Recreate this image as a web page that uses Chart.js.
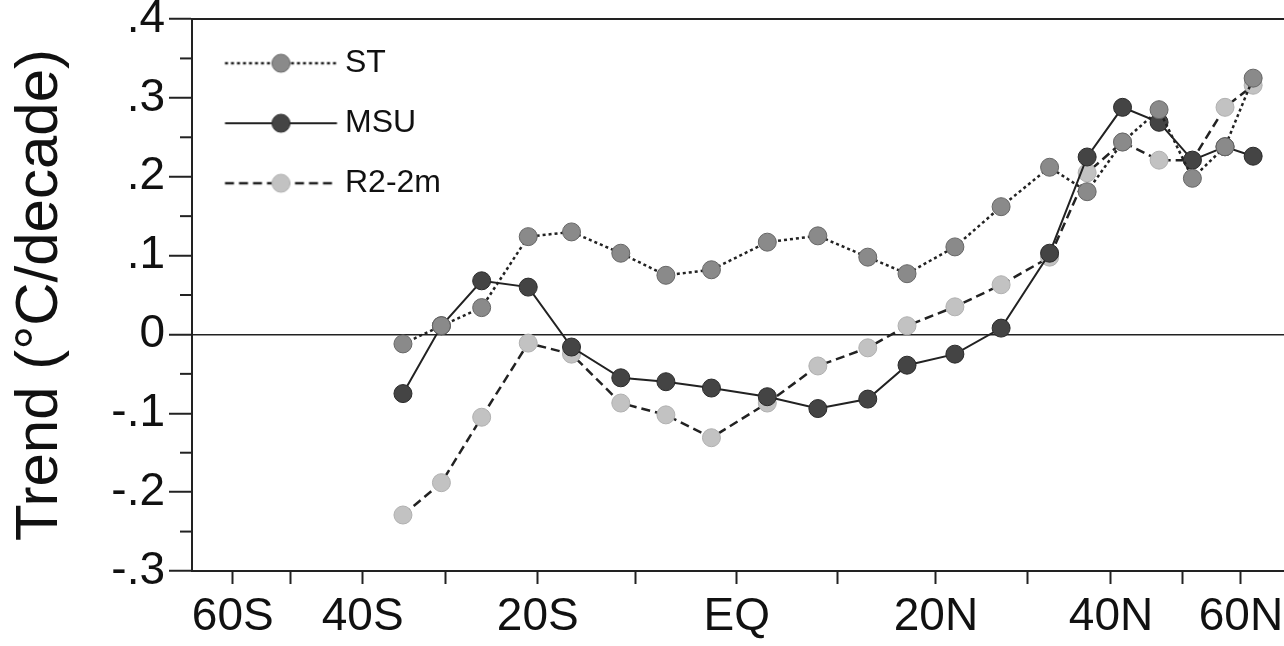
<!DOCTYPE html>
<html>
<head>
<meta charset="utf-8">
<script src="https://cdn.jsdelivr.net/npm/chart.js"></script>
<style>
  html, body { margin: 0; padding: 0; background: #fff; }
  #wrap { width: 1284px; height: 646px; }
</style>
</head>
<body>
<div id="wrap"><canvas id="trendChart"></canvas></div>
<script>
// latitude of each point (negative = south)
const lats = [-35, -30.5, -26, -21, -16.5, -11.5, -7, -2.5, 3, 8, 13, 17, 22, 27, 32.5, 37, 41.5, 46.5, 51.5, 57, 62.5];

const stTrend  = [-0.012, 0.011, 0.034, 0.124, 0.130, 0.103, 0.075, 0.082, 0.117, 0.125, 0.098, 0.077, 0.111, 0.162, 0.212, 0.181, 0.244, 0.285, 0.198, 0.238, 0.325];
const msuTrend = [-0.075, 0.011, 0.068, 0.060, -0.016, -0.055, -0.060, -0.068, -0.079, -0.094, -0.082, -0.039, -0.025, 0.008, 0.103, 0.225, 0.288, 0.269, 0.221, 0.238, 0.226];
const r2Trend  = [-0.229, -0.188, -0.105, -0.011, -0.025, -0.087, -0.102, -0.131, -0.087, -0.040, -0.017, 0.011, 0.035, 0.063, 0.098, 0.205, 0.244, 0.221, 0.221, 0.288, 0.316];

const xTickLats   = [-60, -50, -40, -30, -20, -10, 0, 10, 20, 30, 40, 50, 60];
const xTickLabels = ['60S', '', '40S', '', '20S', '', 'EQ', '', '20N', '', '40N', '', '60N'];
const yTickValues = [-0.3, -0.2, -0.1, 0, 0.1, 0.2, 0.3, 0.4];
const yTickLabels = ['-.3', '-.2', '-.1', '0', '.1', '.2', '.3', '.4'];
const yMinorTicks = [-0.25, -0.15, -0.05, 0.05, 0.15, 0.25, 0.35];

// x axis is area weighted: sin(latitude)
const sinLat = l => Math.sin(l * Math.PI / 180);
const pts = arr => arr.map((v, i) => ({x: sinLat(lats[i]), y: v}));

const INK = '#222';
Chart.defaults.font.family = '"Liberation Sans", Arial, Helvetica, sans-serif';
Chart.defaults.color = '#111';

// legend swatch: line sample with marker in the middle
function swatch(dash, lw, fill, stroke) {
  const c = document.createElement('canvas');
  c.width = 140; c.height = 24;
  const g = c.getContext('2d');
  g.strokeStyle = INK; g.lineWidth = lw; g.setLineDash(dash);
  g.beginPath(); g.moveTo(20.5, 12); g.lineTo(132.5, 12); g.stroke();
  g.setLineDash([]);
  g.beginPath(); g.arc(76.5, 12, 9, 0, Math.PI * 2);
  g.fillStyle = fill; g.fill();
  g.lineWidth = 1; g.strokeStyle = stroke; g.stroke();
  return c;
}

const series = [
  {label: 'ST',     data: stTrend,  dash: [3, 3], lw: 2.5, fill: '#8a8a8a', stroke: '#666'},
  {label: 'MSU',    data: msuTrend, dash: [],     lw: 2,   fill: '#444',    stroke: '#2a2a2a'},
  {label: 'R2-2m',  data: r2Trend,  dash: [9, 5], lw: 2.5, fill: '#c2c2c2', stroke: '#b0b0b0'}
];

const minorTicks = {
  id: 'minorTicks',
  afterDraw(chart) {
    const y = chart.scales.y, ctx = chart.ctx, left = chart.chartArea.left;
    ctx.save();
    ctx.strokeStyle = INK; ctx.lineWidth = 2;
    yMinorTicks.forEach(v => {
      const py = y.getPixelForValue(v);
      ctx.beginPath(); ctx.moveTo(left - 12, py); ctx.lineTo(left, py); ctx.stroke();
    });
    ctx.restore();
  }
};

const noPad = s => { s.paddingLeft = 0; s.paddingRight = 0; s.paddingTop = 0; s.paddingBottom = 0; };

new Chart(document.getElementById('trendChart'), {
  type: 'line',
  data: {
    datasets: series.map(s => ({
      label: s.label,
      data: pts(s.data),
      borderColor: INK,
      borderWidth: s.lw,
      borderDash: s.dash,
      pointRadius: 9,
      pointHoverRadius: 9,
      pointBackgroundColor: s.fill,
      pointBorderColor: s.stroke,
      pointBorderWidth: 1,
      fill: false,
      tension: 0
    }))
  },
  options: {
    responsive: true,
    maintainAspectRatio: false,
    animation: false,
    layout: {padding: 0, autoPadding: false},
    plugins: {
      tooltip: {enabled: false},
      legend: {
        position: 'chartArea',
        align: 'start',
        title: {display: true, text: ' ', font: {size: 1}, padding: {top: 0, bottom: 18}},
        labels: {
          usePointStyle: true,
          pointStyleWidth: 109,
          padding: 28,
          font: {size: 32},
          color: '#111',
          generateLabels: () => series.map((s, i) => ({
            text: s.label,
            pointStyle: swatch(s.dash, s.lw, s.fill, s.stroke),
            fillStyle: 'transparent',
            strokeStyle: 'transparent',
            lineWidth: 0,
            hidden: false,
            datasetIndex: i,
            fontColor: '#111'
          }))
        }
      }
    },
    scales: {
      x: {
        type: 'linear',
        position: 'bottom',
        min: -0.936,
        max: 0.940,
        afterBuildTicks: s => { s.ticks = xTickLats.map(l => ({value: sinLat(l)})); },
        afterFit: s => { s.height = 75; noPad(s); },
        ticks: {
          autoSkip: false,
          maxRotation: 0,
          padding: 6,
          font: {size: 46},
          color: '#111',
          callback: (v, i) => xTickLabels[i]
        },
        grid: {drawOnChartArea: false, tickLength: 13, tickWidth: 2, tickColor: INK},
        border: {color: INK, width: 2}
      },
      x2: {
        type: 'linear',
        position: 'top',
        afterFit: s => { s.height = 19; noPad(s); },
        ticks: {display: false},
        grid: {drawOnChartArea: false, drawTicks: false},
        border: {display: true, color: INK, width: 2}
      },
      y: {
        min: -0.3,
        max: 0.4,
        afterBuildTicks: s => { s.ticks = yTickValues.map(v => ({value: v})); },
        afterFit: s => { s.width = 192; noPad(s); },
        ticks: {
          padding: 4,
          font: {size: 46},
          color: '#111',
          callback: (v, i) => yTickLabels[i]
        },
        grid: {
          color: c => (c.tick && c.tick.value === 0) ? INK : 'transparent',
          lineWidth: 1.5,
          tickLength: 23,
          tickWidth: 2,
          tickColor: INK
        },
        border: {color: INK, width: 2},
        title: {
          display: true,
          text: 'Trend (°C/decade)',
          font: {size: 60},
          color: '#111',
          padding: {top: 4, bottom: 0}
        }
      }
    }
  },
  plugins: [minorTicks]
});
</script>
</body>
</html>
